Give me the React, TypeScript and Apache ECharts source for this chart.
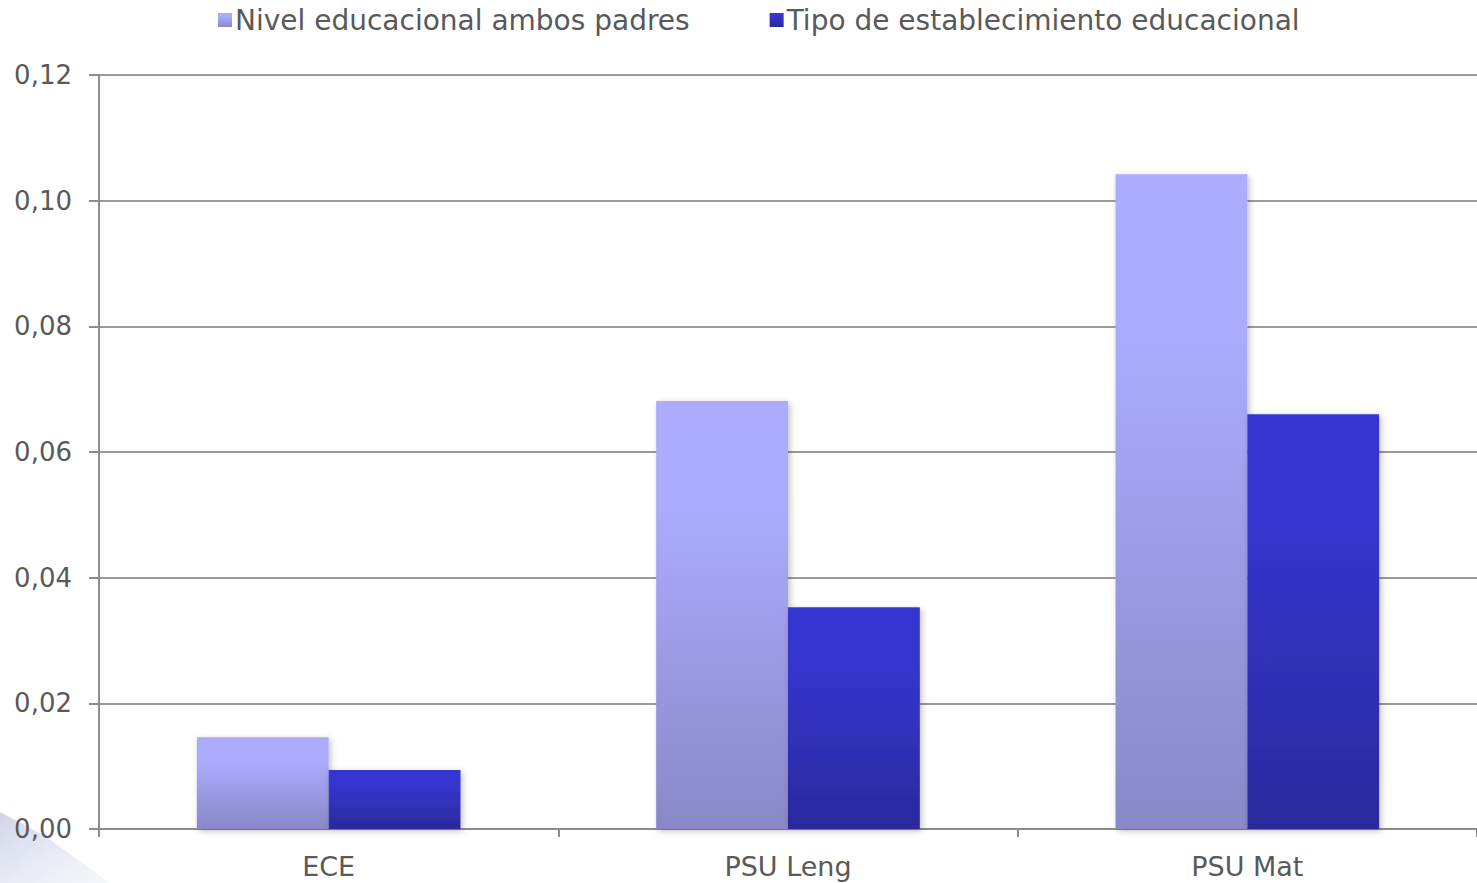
import React, { useEffect, useRef } from "react";
import * as echarts from "echarts";

const categories = ["ECE", "PSU Leng", "PSU Mat"];
const seriesNames = ["Nivel educacional ambos padres", "Tipo de establecimiento educacional"];
const nivelPadres = [0.0146, 0.0681, 0.1042];
const tipoEstablecimiento = [0.0094, 0.0353, 0.066];

const FONT = "'DejaVu Sans', sans-serif";

export default function App() {
  const ref = useRef<HTMLDivElement>(null);
  useEffect(() => {
    if (!ref.current) return;
    const chart = echarts.init(ref.current, null, { renderer: "svg" });
    const lightGrad = new echarts.graphic.LinearGradient(0, 0, 0, 1, [
      { offset: 0, color: "#ACACFF" },
      { offset: 0.25, color: "#ABABFD" },
      { offset: 1, color: "#8888C8" },
    ]);
    const darkGrad = new echarts.graphic.LinearGradient(0, 0, 0, 1, [
      { offset: 0, color: "#3636D2" },
      { offset: 0.25, color: "#3535CF" },
      { offset: 1, color: "#2A2A9C" },
    ]);
    const shadow = {
      shadowBlur: 6,
      shadowColor: "rgba(0,0,0,0.25)",
      shadowOffsetX: 2,
      shadowOffsetY: 2,
    };
    chart.setOption({
      animation: false,
      backgroundColor: "#ffffff",
      graphic: [
        {
          type: "polygon",
          silent: true,
          z: -10,
          shape: { points: [[0, 812], [45, 836], [110, 883], [0, 883]] },
          style: {
            fill: new echarts.graphic.LinearGradient(0, 0, 1, 1, [
              { offset: 0, color: "rgba(200,205,228,0.85)" },
              { offset: 1, color: "rgba(238,240,248,0.5)" },
            ]),
          },
        },
      ],
      legend: {
        top: 6,
        left: 218,
        itemWidth: 14,
        itemHeight: 14,
        itemGap: 80,
        icon: "rect",
        padding: 0,
        textStyle: { fontFamily: FONT, fontSize: 28, color: "#595959", padding: [0, 0, 0, -2] },
        data: seriesNames,
      },
      grid: { left: 99, right: 0, top: 75, bottom: 54, containLabel: false },
      xAxis: {
        type: "category",
        data: categories,
        axisLine: { lineStyle: { color: "#8c8c8c", width: 2 } },
        axisTick: { show: true, length: 8, lineStyle: { color: "#8c8c8c", width: 2 } },
        axisLabel: { fontFamily: FONT, fontSize: 27, color: "#595959", margin: 24 },
      },
      yAxis: {
        type: "value",
        min: 0,
        max: 0.12,
        interval: 0.02,
        axisLine: { show: true, lineStyle: { color: "#8c8c8c", width: 2 } },
        axisTick: { show: true, length: 10, lineStyle: { color: "#8c8c8c", width: 2 } },
        splitLine: { lineStyle: { color: "#9a9a9a", width: 2 } },
        axisLabel: {
          fontFamily: FONT,
          fontSize: 26,
          color: "#595959",
          margin: 27,
          formatter: (v: number) => v.toFixed(2).replace(".", ","),
        },
      },
      series: [
        {
          name: seriesNames[0],
          type: "bar",
          data: nivelPadres,
          barWidth: "28.7%",
          barGap: "0%",
          itemStyle: { color: lightGrad, ...shadow },
        },
        {
          name: seriesNames[1],
          type: "bar",
          data: tipoEstablecimiento,
          barWidth: "28.7%",
          barGap: "0%",
          itemStyle: { color: darkGrad, ...shadow },
        },
      ],
    });
    return () => chart.dispose();
  }, []);
  return (
    <div
      ref={ref}
      style={{ position: "fixed", left: 0, top: 0, width: 1477, height: 883 }}
    />
  );
}
